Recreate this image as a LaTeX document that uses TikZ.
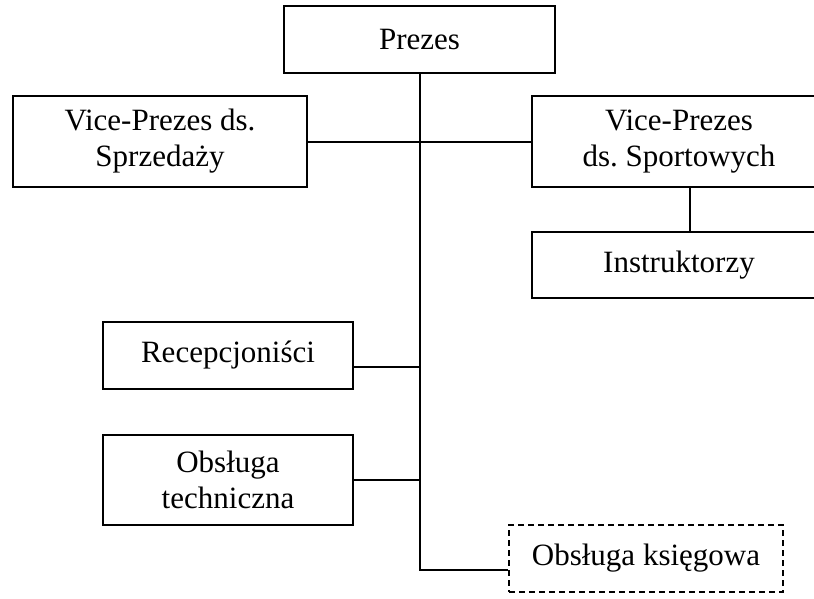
\documentclass[tikz,border=0pt]{standalone}
\usepackage{fontspec}
\setmainfont{Liberation Serif}
\frenchspacing
\begin{document}
\begin{tikzpicture}[x=1pt,y=-1pt,
  box/.style={draw, line width=1.6pt, inner sep=0pt, align=center,
    font=\fontsize{31}{36}\selectfont},
  conn/.style={line width=1.8pt}]
\useasboundingbox (0,0) rectangle (814,598);
\node[box, minimum width=271pt, minimum height=67pt] (prezes) at (419.5,39.5) {Prezes};
\node[box, minimum width=294pt, minimum height=91pt] (vps) at (160,141.5) {Vice-Prezes ds.\\Sprzedaży};
\node[box, minimum width=294pt, minimum height=91pt] (vpsp) at (679,141.5) {Vice-Prezes\\ds. Sportowych};
\node[box, minimum width=294pt, minimum height=66pt] (instr) at (679,265) {Instruktorzy};
\node[box, minimum width=250pt, minimum height=67pt] (recep) at (228,355.5) {Recepcjoniści};
\node[box, minimum width=250pt, minimum height=90pt] (obst) at (228,480) {Obsługa\\techniczna};
\node[box, dash pattern=on 6pt off 4pt, minimum width=274pt, minimum height=67pt] (obsk) at (646,558.5) {Obsługa księgowa};
\coordinate (tb) at (420,570);
\coordinate (rc) at (420,367);
\coordinate (hc) at (0,142);
\coordinate (ic) at (690,0);
\draw[conn] (prezes.south -| tb) -- (tb) -- (tb -| obsk.west);
\draw[conn] (vps.east |- hc) -- (vpsp.west |- hc);
\draw[conn] (rc -| recep.east) -- (rc);
\draw[conn] (obst.east) -- (obst.east -| tb);
\draw[conn] (vpsp.south -| ic) -- (instr.north -| ic);
\end{tikzpicture}
\end{document}
